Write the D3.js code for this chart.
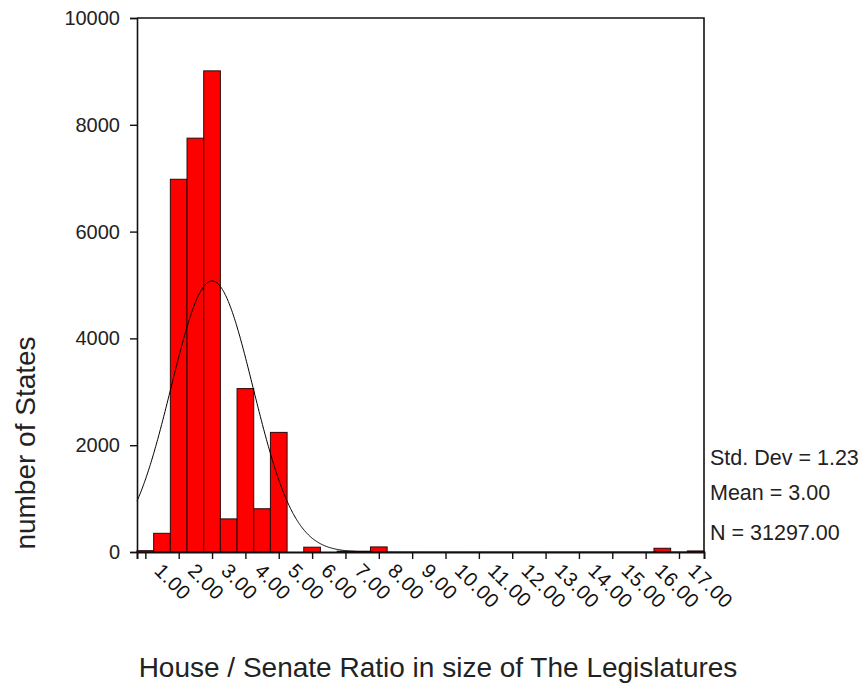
<!DOCTYPE html>
<html>
<head>
<meta charset="utf-8">
<script src="https://cdn.jsdelivr.net/npm/d3@7"></script>
<style>
  html, body { margin: 0; padding: 0; background: #fff; }
  svg { display: block; font-family: "Liberation Sans", Arial, sans-serif; }
</style>
</head>
<body>
<svg id="chart" width="862" height="686"></svg>
<script>
// Histogram bins (midpoints, width 0.5) and the number of states in each
const binMids = [1.0, 1.5, 2.0, 2.5, 3.0, 3.5, 4.0, 4.5, 5.0, 5.5, 6.0, 6.5, 7.0, 7.5, 8.0, 8.5,
                 9.0, 9.5, 10.0, 10.5, 11.0, 11.5, 12.0, 12.5, 13.0, 13.5, 14.0, 14.5, 15.0, 15.5,
                 16.0, 16.5, 17.0, 17.5];
const binCounts = [25, 350, 6980, 7750, 9010, 620, 3060, 810, 2240, 0, 90, 0, 15, 15, 95, 0,
                   0, 0, 0, 0, 0, 0, 0, 0, 0, 0, 0, 0, 0, 0,
                   0, 70, 0, 20];
const binWidth = 0.5;

const xTicks = [1, 2, 3, 4, 5, 6, 7, 8, 9, 10, 11, 12, 13, 14, 15, 16, 17];
const yTicks = [0, 2000, 4000, 6000, 8000, 10000];

// Summary statistics shown beside the plot; the normal curve is drawn from them
const statLabels = ["Std. Dev", "Mean", "N"];
const statValues = [1.23, 3.00, 31297.00];

const svg = d3.select("#chart");
const plotLeft = 137, plotRight = 704, plotTop = 18, plotBottom = 552;

const x = d3.scaleLinear().domain([0.75, 17.75]).range([plotLeft, plotRight]);
const y = d3.scaleLinear().domain([0, 10000]).range([plotBottom, plotTop]);

// Bars
svg.append("g")
  .selectAll("rect")
  .data(binMids.map((m, i) => ({ m, c: binCounts[i] })).filter(d => d.c > 0))
  .join("rect")
  .attr("x", d => x(d.m - binWidth / 2))
  .attr("width", d => x(d.m + binWidth / 2) - x(d.m - binWidth / 2))
  .attr("y", d => y(d.c))
  .attr("height", d => y(0) - y(d.c))
  .attr("fill", "#ff0000")
  .attr("stroke", "#2b0a0a")
  .attr("stroke-width", 1);

// Normal curve scaled to counts per bin
const sd = statValues[0], mean = statValues[1], n = statValues[2];
const norm = v => n * binWidth / (sd * Math.sqrt(2 * Math.PI)) *
  Math.exp(-0.5 * Math.pow((v - mean) / sd, 2));
const curvePts = d3.range(0.75, 17.7501, 0.02);
svg.append("path")
  .datum(curvePts)
  .attr("fill", "none")
  .attr("stroke", "#000")
  .attr("stroke-width", 1)
  .attr("d", d3.line().x(v => x(v)).y(v => y(norm(v))));

// Frame: top and right border
svg.append("path")
  .attr("d", `M${plotLeft},${plotTop}H${plotRight}V${plotBottom}`)
  .attr("fill", "none")
  .attr("stroke", "#111")
  .attr("stroke-width", 1.6);

// Y axis
const yAxis = svg.append("g")
  .attr("transform", `translate(${plotLeft},0)`)
  .call(d3.axisLeft(y).tickValues(yTicks).tickSize(7).tickPadding(10).tickFormat(d3.format("d")));
yAxis.select(".domain").attr("stroke", "#111").attr("stroke-width", 1.6);
yAxis.selectAll(".tick line").attr("stroke", "#111").attr("stroke-width", 1.4);
yAxis.selectAll(".tick text")
  .attr("font-size", 20)
  .attr("font-family", "Liberation Sans, Arial, sans-serif")
  .attr("fill", "#222");

// X axis (ticks only; labels drawn below)
const xAxis = svg.append("g")
  .attr("transform", `translate(0,${plotBottom})`)
  .call(d3.axisBottom(x).tickValues(xTicks).tickSize(7).tickFormat(""));
xAxis.select(".domain").attr("stroke", "#111").attr("stroke-width", 2);
xAxis.selectAll(".tick line").attr("stroke", "#111").attr("stroke-width", 1.4);

// Slanted tick labels running down-right from each tick
svg.append("g")
  .selectAll("text")
  .data(xTicks)
  .join("text")
  .attr("transform", d => `translate(${x(d) + 8},572) rotate(45)`)
  .attr("font-size", 20)
  .attr("letter-spacing", 0.6)
  .attr("fill", "#111")
  .text(d => d3.format(".2f")(d));

// Statistics text
const statText = [
  `${statLabels[0]} = ${d3.format(".2f")(statValues[0])}`,
  `${statLabels[1]} = ${d3.format(".2f")(statValues[1])}`,
  `${statLabels[2]} = ${d3.format(".2f")(statValues[2])}`
];
svg.append("g")
  .selectAll("text")
  .data(statText)
  .join("text")
  .attr("x", 710)
  .attr("y", (d, i) => [465, 500, 540][i])
  .attr("font-size", 21.5)
  .attr("fill", "#222")
  .text(d => d);

// Axis titles
svg.append("text")
  .attr("x", 438)
  .attr("y", 677)
  .attr("text-anchor", "middle")
  .attr("font-size", 28)
  .attr("fill", "#222")
  .text("House / Senate Ratio in size of The Legislatures");

svg.append("text")
  .attr("transform", "translate(35,443) rotate(-90)")
  .attr("text-anchor", "middle")
  .attr("font-size", 28)
  .attr("fill", "#222")
  .text("number of States");
</script>
</body>
</html>
